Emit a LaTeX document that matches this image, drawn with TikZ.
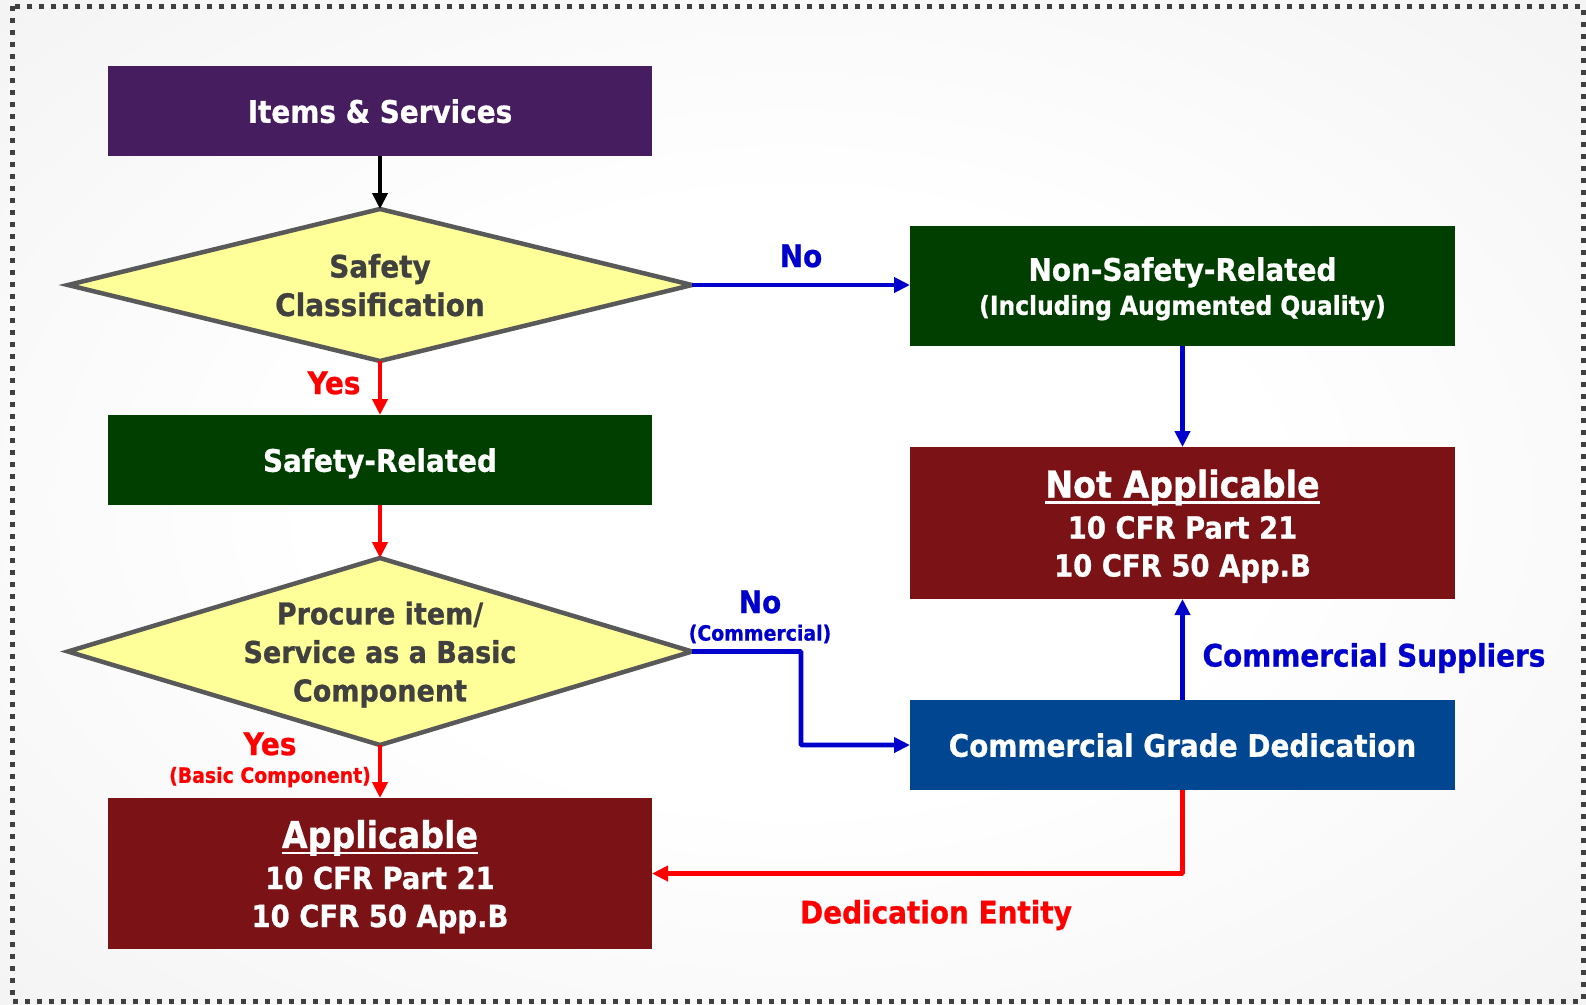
\documentclass[tikz,border=0pt]{standalone}
\usepackage{fontspec}
\setmainfont{DejaVu Sans Condensed}[BoldFeatures={FakeBold=0.8}]
\usetikzlibrary{shapes.geometric,arrows.meta,calc}

\definecolor{itemspurple}{HTML}{461D5E}
\definecolor{boxgreen}{HTML}{003F00}
\definecolor{boxred}{HTML}{7A1216}
\definecolor{boxblue}{HTML}{004690}
\definecolor{decfill}{HTML}{FFFF99}
\definecolor{decline}{HTML}{595959}
\definecolor{dectext}{HTML}{404040}
\definecolor{flowblue}{HTML}{0000CC}
\definecolor{flowred}{HTML}{FF0000}
\definecolor{bgedge}{HTML}{E0E0E0}
\definecolor{framegray}{HTML}{404040}

\pgfdeclareradialshading{pageshade}{\pgfpoint{0bp}{0bp}}{%
  color(0bp)=(white); color(15bp)=(white); color(72bp)=(bgedge); color(80bp)=(bgedge)}

\newcommand{\fs}[2]{\fontsize{#1}{#2}\selectfont\bfseries}
% underline drawn at a fixed depth below the baseline, crossing descenders
\newcommand{\ulword}[1]{\setbox0\hbox{#1}\rlap{\rule[-6pt]{\wd0}{2.2pt}}\box0}

\tikzset{
  flowbox/.style={rectangle, inner sep=0pt, outer sep=0pt, text=white, align=center,
    text depth=0pt, font=\fs{31}{38}},
  decision/.style={diamond, draw=decline, line width=4.5pt, fill=decfill, inner sep=0pt,
    outer sep=0pt},
  dectxt/.style={text=dectext, align=center, text depth=0pt, font=\fs{31}{38.5}},
  flowline/.style={line width=4.6pt, -{Triangle[length=16pt,width=15pt]}},
  blueflow/.style={flowline, draw=flowblue},
  redflow/.style={flowline, draw=flowred},
  bluelbl/.style={text=flowblue, font=\fs{31}{34}},
  redlbl/.style={text=flowred, font=\fs{31}{34}},
  smallblue/.style={text=flowblue, font=\fs{21}{24}},
  smallred/.style={text=flowred, font=\fs{21}{24}},
}

\begin{document}
\begin{tikzpicture}[x=1pt, y=-1pt]
  % page background and dotted frame
  \useasboundingbox (0,0) rectangle (1586,1004);
  \shade[shading=pageshade] (0,0) rectangle (1586,1004);
  \draw[framegray, line width=5pt, dash pattern=on 5pt off 7pt] (12,6) rectangle (1583,1001);

  % left column
  \node[flowbox, fill=itemspurple, minimum width=544pt, minimum height=90pt] (items) at (380,111) {Items \& Services};
  \node[decision, minimum width=624pt, minimum height=152pt] (sc) at (380,285) {};
  \node[dectxt] (sctext) at (sc.center) {Safety\\Classification};
  \node[flowbox, fill=boxgreen, minimum width=544pt, minimum height=90pt] (sr) at (380,460) {Safety-Related};
  \node[decision, minimum width=624pt, minimum height=187pt] (pc) at (380,651.5) {};
  \node[dectxt, font=\fs{30}{38.5}] (pctext) at (pc.center) {Procure item/\\Service as a Basic\\Component};
  \node[flowbox, fill=boxred, minimum width=544pt, minimum height=151pt] (app) at (380,873.5)
    {{\fs{37}{40}\ulword{Applicable}}\\[3pt]{\fs{30.5}{38}10 CFR Part 21}\\{\fs{30.5}{38}10 CFR 50 App.B}};

  % right column
  \node[flowbox, fill=boxgreen, minimum width=545pt, minimum height=120pt] (nsr) at (1182.5,286)
    {Non-Safety-Related\\[-4pt]{\fs{26}{28}(Including Augmented Quality)}};
  \node[flowbox, fill=boxred, minimum width=545pt, minimum height=152pt] (na) at (1182.5,523)
    {{\fs{37}{40}\ulword{Not Applicable}}\\[3pt]{\fs{30.5}{38}10 CFR Part 21}\\{\fs{30.5}{38}10 CFR 50 App.B}};
  \node[flowbox, fill=boxblue, minimum width=545pt, minimum height=90pt] (cgd) at (1182.5,745)
    {Commercial Grade Dedication};

  % connectors
  \coordinate (pcknee) at (801,651.5);
  \draw[flowline, draw=black] (items.south) -- (sc.north);
  \draw[redflow] (sc.south) -- (sr.north);
  \draw[blueflow] (sc.east) -- (nsr.west |- sc.east);
  \draw[blueflow] (nsr.south) -- (na.north);
  \draw[redflow] (sr.south) -- (pc.north);
  \draw[blueflow, rounded corners=1pt] (pc.east) -- (pcknee) |- (cgd.west);
  \draw[redflow] (pc.south) -- (app.north);
  \draw[blueflow] (cgd.north) -- (na.south);
  \draw[redflow, rounded corners=1pt] (cgd.south) |- (app.east);

  % connector labels
  \node[redlbl] (yes1) at (334,383) {Yes};
  \node[bluelbl] (no1) at (801,256) {No};
  \node[bluelbl] (no2) at (760,602) {No};
  \node[smallblue] (no2sub) at (760,634) {(Commercial)};
  \node[redlbl] (yes2) at (270,744) {Yes};
  \node[smallred] (yes2sub) at (270,777) {(Basic Component)};
  \node[bluelbl] (suppliers) at (1374,658) {Commercial Suppliers};
  \node[redlbl] (entity) at (936,915) {Dedication Entity};
\end{tikzpicture}
\end{document}
